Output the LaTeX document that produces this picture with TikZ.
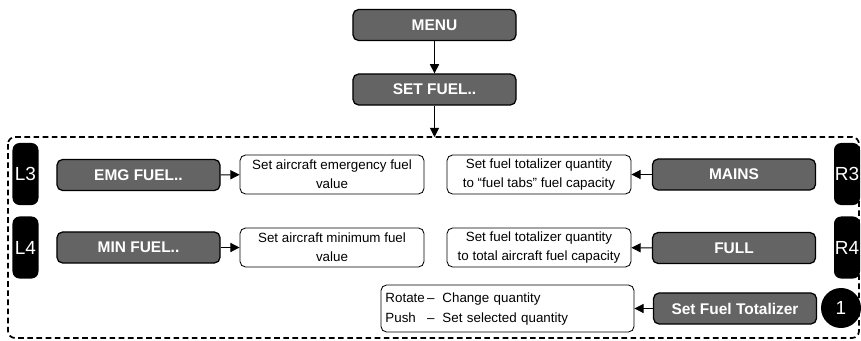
\documentclass[tikz,border=0pt]{standalone}
\usepackage{fontspec}
\setmainfont{Liberation Sans}
\usetikzlibrary{arrows.meta}
\definecolor{Slate}{HTML}{646464}

\begin{document}
\begin{tikzpicture}[x=0.025cm,y=-0.025cm,
    key/.style={draw=black,line width=0.9pt,rounded corners=4pt,fill=Slate,text=white,minimum width=4.075cm,minimum height=0.775cm,inner sep=0pt,font=\fontsize{11}{13}\selectfont\bfseries},
    note/.style={draw=black,line width=0.6pt,rounded corners=4pt,fill=white,minimum width=4.6cm,minimum height=0.975cm,inner sep=0pt,align=center,font=\fontsize{9.5}{13.5}\selectfont},
    tab/.style={fill=black,rounded corners=5pt,text=white,minimum width=0.65cm,minimum height=1.55cm,inner sep=0pt,font=\fontsize{13.5}{15}\selectfont},
    arr/.style={-{Triangle[length=6.5pt,width=6.5pt]},line width=0.7pt,draw=black}
  ]
    \useasboundingbox (0,0) rectangle (861,341);
    % menu path
    \node[key] (menu) at (434.5,25) {MENU};
    \node[key] (setfuel) at (434.5,89.5) {SET FUEL..};
    \coordinate (pagetop) at (434.5,137);
    \draw[arr] (menu) -- (setfuel); \draw[arr] (setfuel) -- (pagetop);
    \draw[line width=1.2pt,dash pattern=on 4pt off 2.5pt,rounded corners=5pt] (8,137) rectangle (859,338);
    % line select keys
    \node[tab] (l3) at (25.5,174) {L3};
    \node[tab] (l4) at (25.5,247.5) {L4};
    \node[tab] (r3) at (847,174) {R3};
    \node[tab] (r4) at (847,247.5) {R4};
    \node[circle,fill=black,text=white,minimum size=1cm,inner sep=0pt,font=\fontsize{13.5}{15}\selectfont] (knob) at (841,308) {1};
    % left side
    \node[key] (emg) at (138.5,175) {EMG FUEL..};
    \node[key] (min) at (138.5,247.5) {MIN FUEL..};
    \node[note] (emgtxt) at (332,174.5) {Set aircraft emergency fuel\\value};
    \node[note] (mintxt) at (332,247.5) {Set aircraft minimum fuel\\value};
    \draw[arr] (emg) -- (emgtxt); \draw[arr] (min) -- (mintxt);
    % right side
    \node[key] (mains) at (734,174.5) {MAINS};
    \node[key] (full) at (734,248) {FULL};
    \node[note] (mainstxt) at (539,174.5) {Set fuel totalizer quantity\\to “fuel tabs” fuel capacity};
    \node[note] (fulltxt) at (539,247.5) {Set fuel totalizer quantity\\to total aircraft fuel capacity};
    \draw[arr] (mains) -- (mainstxt); \draw[arr] (full) -- (fulltxt);
    % knob
    \node[key] (total) at (735,308.5) {Set Fuel Totalizer};
    \node[note,minimum width=6.325cm,minimum height=1.175cm,align=left,text width=6.1cm] (knobtxt) at (507.5,308.5) {%
      \begin{tabular}{@{}l@{\,}c@{\hspace{0.6em}}l@{}}
        Rotate & -- & Change quantity\\[1pt]
        Push & -- & Set selected quantity
      \end{tabular}};
    \draw[arr] (total) -- (knobtxt);
  \end{tikzpicture}
\end{document}
